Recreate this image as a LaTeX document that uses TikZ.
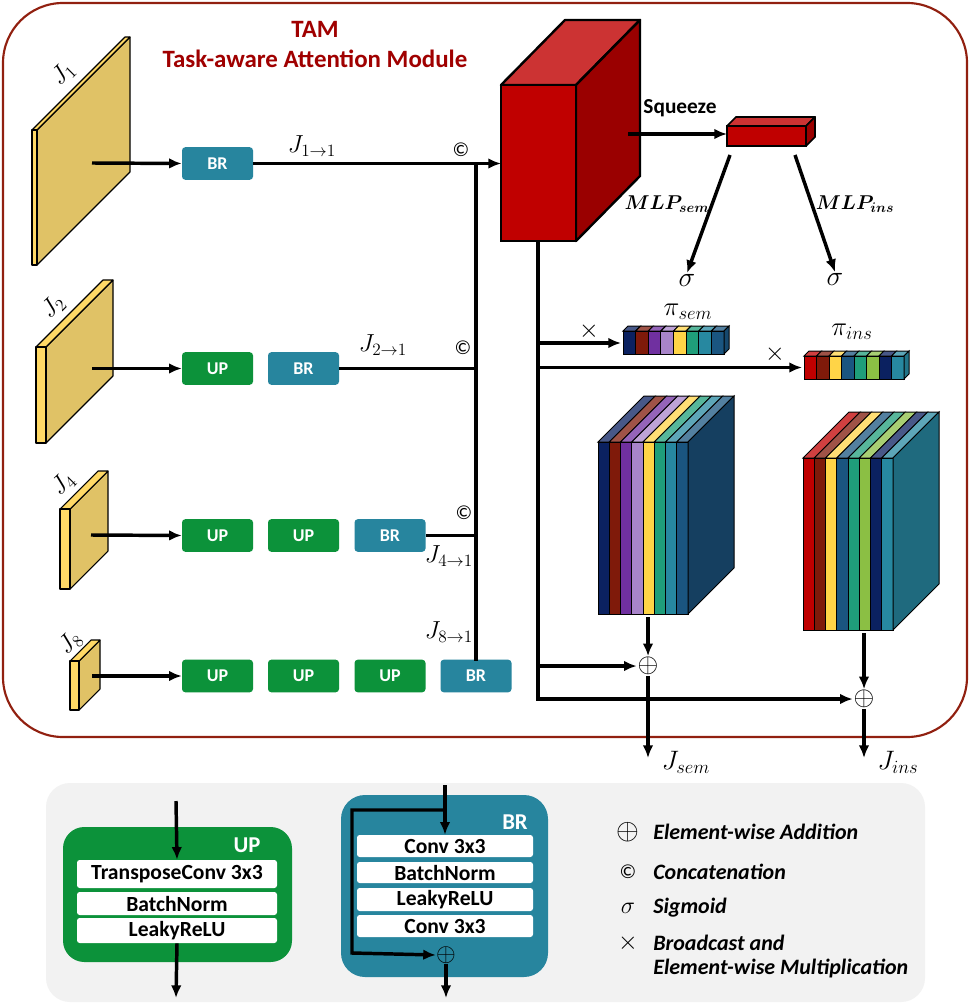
\RequirePackage{fix-cm}
\documentclass[tikz,border=0pt]{standalone}
\usepackage{fontspec}
\setmainfont{Carlito}
\usepackage{bm}
\usetikzlibrary{arrows.meta}
\definecolor{tamred}{HTML}{912010}
\definecolor{titlered}{HTML}{A00000}
\definecolor{brteal}{HTML}{27859E}
\definecolor{upgreen}{HTML}{0C923A}
\definecolor{slabface}{HTML}{E0C266}
\definecolor{slablight}{HTML}{FFD966}
\definecolor{cubefront}{HTML}{C00000}
\definecolor{cubetop}{HTML}{CC3333}
\definecolor{cuberight}{HTML}{9A0000}
\definecolor{legbg}{HTML}{F2F2F2}
\definecolor{cnavy}{HTML}{0B2160}
\definecolor{cdred}{HTML}{7F1A0A}
\definecolor{cpurp}{HTML}{7030A0}
\definecolor{clav}{HTML}{A884C9}
\definecolor{cyel}{HTML}{FFD447}
\definecolor{ctg}{HTML}{1F9E7A}
\definecolor{cteal}{HTML}{2788A0}
\definecolor{csteel}{HTML}{1A5580}
\definecolor{cred}{HTML}{C00000}
\definecolor{cgreen}{HTML}{8BBF44}
\definecolor{semright}{HTML}{153F60}
\definecolor{insright}{HTML}{1F6A7E}
\newcommand{\slabdraw}[5]{% x strip, strip width, top y, height, depth
  \filldraw[slabpart,fill=slabface] (#1+#2,#3) -- ++(#5,-#5) -- ++(0,#4) -- (#1+#2,#3+#4) -- cycle;
  \filldraw[slabpart,fill=slablight] (#1,#3) -- ++(#5,-#5) -- ++(#2,0) -- (#1+#2,#3) -- cycle;
  \filldraw[slabpart,fill=slablight] (#1,#3) rectangle (#1+#2,#3+#4);
}
\begin{document}
\begin{tikzpicture}[x=0.75pt,y=-0.75pt,
  conn/.style={line width=2.6pt,-{Latex[length=9.5pt,width=8pt]}},
  wire/.style={line width=2.6pt},
  box/.style={rounded corners=2.5pt,minimum width=53.25pt,minimum height=24.5pt,text=white,font=\fontsize{13.5}{16}\selectfont\bfseries,inner sep=0pt},
  brbox/.style={box,fill=brteal},
  upbox/.style={box,fill=upgreen},
  mathlbl/.style={font=\fontsize{18.5}{22}\selectfont,inner sep=0pt},
  biglbl/.style={font=\fontsize{20}{24}\selectfont,inner sep=0pt},
  symlbl/.style={font=\fontsize{20}{24}\selectfont,inner sep=0.5pt},
  timeslbl/.style={font=\fontsize{19}{22}\selectfont,inner sep=0.5pt},
  siglbl/.style={font=\fontsize{21}{25}\selectfont,inner sep=0.5pt},
  copy/.style={font=\fontsize{15}{17}\selectfont,inner sep=0pt},
  legrow/.style={fill=white,rounded corners=2pt,inner sep=0pt,font=\fontsize{16.2}{18}\selectfont\bfseries,text=black},
  legtxt/.style={anchor=west,font=\fontsize{16.5}{19}\selectfont\bfseries\itshape,inner sep=0pt},
  edge3d/.style={draw=black,line width=0.75pt},
  slabpart/.style={draw=black,line width=0.8pt,line join=round}
]
\useasboundingbox[fill=white] (0,0) rectangle (972,1005);

% ---------- TAM frame ----------
\draw[tamred,line width=1.6pt,rounded corners=45pt] (3,3) rectangle (967,737);
\node[text=titlered,font=\fontsize{18.7}{22}\selectfont\bfseries] (tam) at (315,29) {TAM};
\node[text=titlered,font=\fontsize{18.7}{22}\selectfont\bfseries] (tamfull) at (315,59) {Task-aware Attention Module};

% ---------- feature slabs ----------
\slabdraw{32}{5}{130}{135}{93}
\slabdraw{36}{10}{347}{96}{67}
\slabdraw{60}{10}{509}{80}{38}
\slabdraw{70}{9}{661}{49}{21}
\node[mathlbl,rotate=45] (lJ1) at (63,74) {$J_1$};
\node[mathlbl,rotate=45] (lJ2) at (53,307) {$J_2$};
\node[mathlbl,rotate=45] (lJ4) at (63,484) {$J_4$};
\node[mathlbl,rotate=45] (lJ8) at (70,643) {$J_8$};
\coordinate (s1) at (92,163);
\coordinate (s2) at (92,368.5);
\coordinate (s3) at (91,535);
\coordinate (s4) at (92,676);

% ---------- branch boxes ----------
\node[brbox] (br1) at (217.5,163.5) {BR};
\node[upbox] (up21) at (217.5,368.5) {UP};
\node[brbox] (br2) at (303.5,368.5) {BR};
\node[upbox] (up31) at (217.5,535.5) {UP};
\node[upbox] (up32) at (303.5,535.5) {UP};
\node[brbox] (br3) at (390,535.5) {BR};
\node[upbox] (up41) at (217.5,676) {UP};
\node[upbox] (up42) at (303.5,676) {UP};
\node[upbox] (up43) at (390,676) {UP};
\node[brbox] (br4) at (476,676) {BR};

\draw[conn] (s1) -- (br1.west);
\draw[conn] (s2) -- (up21.west);
\draw[conn] (s3) -- (up31.west);
\draw[conn] (s4) -- (up41.west);

% ---------- bus ----------
\coordinate (bus1) at (476,163.5);
\coordinate (bus2) at (476,368.5);
\coordinate (bus3) at (476,535.5);
\coordinate (cubeL) at (501,163.5);
\draw[wire,line cap=rect] (br4.north) -- (bus1);
\draw[conn] (br1.east) -- (cubeL);
\draw[wire] (br2.east) -- (bus2);
\draw[wire] (br3.east) -- (bus3);
\node[mathlbl] (l11) at (312,146) {$J_{1\to1}$};
\node[mathlbl] (l21) at (383,345) {$J_{2\to1}$};
\node[mathlbl] (l41) at (449,556) {$J_{4\to1}$};
\node[mathlbl] (l81) at (449,632) {$J_{8\to1}$};
\node[copy] (c1) at (461,150) {©};
\node[copy] (c2) at (463,348) {©};
\node[copy] (c3) at (464,513) {©};

% ---------- red cube ----------
\filldraw[draw=black,line width=1.8pt,line join=round,fill=cubetop] (501,85) -- (565,20) -- (640,20) -- (576,85) -- cycle;
\filldraw[draw=black,line width=1.8pt,line join=round,fill=cuberight] (576,85) -- (640,20) -- (640,176) -- (576,241) -- cycle;
\filldraw[draw=black,line width=1.8pt,fill=cubefront] (501,85) rectangle (576,241);
\coordinate (cubeR) at (628,134);
\coordinate (cubeB) at (538,242);

% ---------- squeeze ----------
\filldraw[draw=black,line width=1.3pt,line join=round,fill=cubetop] (727,126) -- ++(9,-9) -- (815,117) -- (806,126) -- cycle;
\filldraw[draw=black,line width=1.3pt,line join=round,fill=cuberight] (806,126) -- (815,117) -- (815,137) -- (806,146) -- cycle;
\filldraw[draw=black,line width=1.3pt,fill=cubefront] (727,126) rectangle (806,146);
\coordinate (sqzL) at (727,134);
\draw[conn] (cubeR) -- (sqzL);
\node[font=\fontsize{16}{19}\selectfont\bfseries] (sqz) at (680,108) {Squeeze};
\coordinate (sqzA) at (730,155);
\coordinate (sqzB) at (795,155);
\node[siglbl] (sig1) at (687,280) {$\sigma$};
\node[siglbl] (sig2) at (835,279) {$\sigma$};
\draw[conn] (sqzA) -- (sig1.north);
\draw[conn] (sqzB) -- (sig2.north);
\node[font=\fontsize{15}{18}\selectfont,inner sep=0pt] (mlps) at (667,204) {$\bm{MLP}_{\bm{sem}}$};
\node[font=\fontsize{15}{18}\selectfont,inner sep=0pt] (mlpi) at (855,204) {$\bm{MLP}_{\bm{ins}}$};

% ---------- pi bars ----------
\foreach \c [count=\i from 0] in {cnavy,cdred,cpurp,clav,cyel,ctg,cteal,csteel} {
  \pgfmathsetmacro\xa{623+\i*12.625}
  \filldraw[edge3d,fill=\c!75!white] (\xa,331) -- ++(5,-5) -- ++(12.625,0) -- ++(-5,5) -- cycle;
  \filldraw[edge3d,fill=\c] (\xa,331) rectangle ++(12.625,23);
}
\filldraw[edge3d,fill=csteel!85!black] (724,331) -- ++(5,-5) -- ++(0,23) -- (724,354) -- cycle;
\foreach \c [count=\i from 0] in {cred,cdred,cyel,csteel,ctg,cgreen,cnavy,cteal} {
  \pgfmathsetmacro\xa{804+\i*12.5}
  \filldraw[edge3d,fill=\c!75!white] (\xa,356) -- ++(5,-5) -- ++(12.5,0) -- ++(-5,5) -- cycle;
  \filldraw[edge3d,fill=\c] (\xa,356) rectangle ++(12.5,23);
}
\filldraw[edge3d,fill=cteal!85!black] (904,356) -- ++(5,-5) -- ++(0,23) -- (904,379) -- cycle;
\node[biglbl] (pis) at (688,312) {$\pi_{sem}$};
\node[biglbl] (pii) at (852,332) {$\pi_{ins}$};
\coordinate (pisL) at (621,343);
\coordinate (piiL) at (802,367.5);
\node[timeslbl] (x1) at (589,331) {$\times$};
\node[timeslbl] (x2) at (775,354) {$\times$};

% ---------- big blocks ----------
\foreach \c [count=\i from 0] in {cnavy,cdred,cpurp,clav,cyel,ctg,cteal,csteel} {
  \pgfmathsetmacro\xa{598+\i*11.25}
  \filldraw[edge3d,fill=\c!75!white] (\xa,442) -- ++(46,-46) -- ++(11.25,0) -- ++(-46,46) -- cycle;
  \filldraw[edge3d,fill=\c] (\xa,442) rectangle ++(11.25,172);
}
\filldraw[edge3d,fill=semright] (688,442) -- (734,396) -- (734,568) -- (688,614) -- cycle;
\foreach \c [count=\i from 0] in {cred,cdred,cyel,csteel,ctg,cgreen,cnavy,cteal} {
  \pgfmathsetmacro\xa{803+\i*11.25}
  \filldraw[edge3d,fill=\c!75!white] (\xa,458) -- ++(46,-46) -- ++(11.25,0) -- ++(-46,46) -- cycle;
  \filldraw[edge3d,fill=\c] (\xa,458) rectangle ++(11.25,172);
}
\filldraw[edge3d,fill=insright] (893,458) -- (939,412) -- (939,584) -- (893,630) -- cycle;
\coordinate (semB) at (648,617);
\coordinate (insB) at (864,633);

% ---------- additions and outputs ----------
\node[symlbl] (addS) at (648,666) {$\oplus$};
\node[symlbl] (addI) at (864,699) {$\oplus$};
\draw[conn] (semB) -- (addS.north);
\draw[conn] (insB) -- (addI.north);
\draw[conn] (cubeB) |- (addI);
\draw[conn] (538,343) -- (pisL);
\draw[conn] (538,367.5) -- (piiL);
\draw[conn] (538,666) -- (addS);
\coordinate (outS) at (648,758);
\coordinate (outI) at (864,758);
\draw[conn] (addS.south) -- (outS);
\draw[conn] (addI.south) -- (outI);
\node[biglbl] (Jsem) at (686,762) {$J_{sem}$};
\node[biglbl] (Jins) at (898,762) {$J_{ins}$};

% ---------- legend ----------
\fill[legbg,rounded corners=18pt] (46,783) rectangle (925,1002);
\fill[upgreen,rounded corners=16pt] (63,827) rectangle (292,962);
\node[text=white,font=\fontsize{17}{19}\selectfont\bfseries] (uplbl) at (247,845) {UP};
\node[legrow,minimum width=150pt,minimum height=21pt] (upr1) at (177,874) {TransposeConv 3x3};
\node[legrow,minimum width=150pt,minimum height=17.25pt] (upr2) at (177,903.5) {BatchNorm};
\node[legrow,minimum width=150pt,minimum height=18.75pt] (upr3) at (177,930.5) {LeakyReLU};
\coordinate (upin) at (176,801);
\coordinate (upout) at (176,998);
\draw[conn] (upin) -- (upr1.north);
\draw[conn] (upr3.south) -- (upout);

\fill[brteal,rounded corners=18pt] (341,795) rectangle (548,977);
\node[text=white,font=\fontsize{17}{19}\selectfont\bfseries] (brlbl) at (515,822) {BR};
\node[legrow,minimum width=132pt,minimum height=16.5pt] (brr1) at (445,846) {Conv 3x3};
\node[legrow,minimum width=132pt,minimum height=15.75pt] (brr2) at (445,872.5) {BatchNorm};
\node[legrow,minimum width=132pt,minimum height=17.25pt] (brr3) at (445,899.5) {LeakyReLU};
\node[legrow,minimum width=132pt,minimum height=16.5pt] (brr4) at (445,926) {Conv 3x3};
\node[font=\fontsize{19}{20}\selectfont,inner sep=0pt] (bradd) at (446,955) {$\oplus$};
\coordinate (brin) at (445,785);
\coordinate (brout) at (446,998);
\draw[conn] (brin) -- (brr1.north);
\draw[conn] (445,810) -- (352,810) -- (352,953) -- (bradd.west);
\draw[conn] (bradd.south) -- (brout);

\node[font=\fontsize{22}{24}\selectfont,inner sep=0pt] (lg1) at (628,832) {$\oplus$};
\node[copy] (lg2) at (628,872) {©};
\node[font=\fontsize{18}{22}\selectfont,inner sep=0pt] (lg3) at (628,908) {$\sigma$};
\node[timeslbl] (lg4) at (628,943) {$\times$};
\node[legtxt] (lt1) at (653,832) {Element-wise Addition};
\node[legtxt] (lt2) at (653,872) {Concatenation};
\node[legtxt] (lt3) at (653,908) {Sigmoid};
\node[legtxt] (lt4) at (653,943) {Broadcast and};
\node[legtxt] (lt5) at (653,968) {Element-wise Multiplication};
\end{tikzpicture}
\end{document}
